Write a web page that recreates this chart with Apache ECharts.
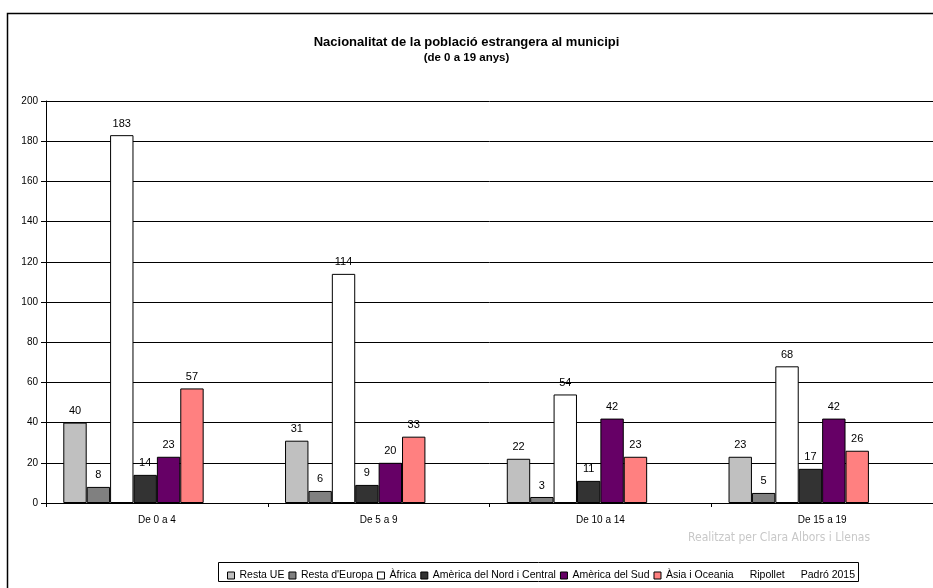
<!DOCTYPE html>
<html><head><meta charset="utf-8">
<script src="https://cdn.jsdelivr.net/npm/echarts@6/dist/echarts.min.js"></script>
<style>html,body{margin:0;padding:0;background:#fff}#c{width:933px;height:588px}</style>
</head><body><div id="c"></div>
<script>
const categories = ['De 0 a 4', 'De 5 a 9', 'De 10 a 14', 'De 15 a 19'];
const seriesNames = ['Resta UE', "Resta d'Europa", 'Àfrica', 'Amèrica del Nord i Central', 'Amèrica del Sud', 'Àsia i Oceania', 'Ripollet', 'Padró 2015'];
const restaUE = [40, 31, 22, 23];
const restaEuropa = [8, 6, 3, 5];
const africa = [183, 114, 54, 68];
const americaNord = [14, 9, 11, 17];
const americaSud = [23, 20, 42, 42];
const asiaOceania = [57, 33, 23, 26];
const ripollet = [null, null, null, null];
const padro2015 = [null, null, null, null];
const yTicks = [0, 20, 40, 60, 80, 100, 120, 140, 160, 180, 200];
const colors = ['#c0c0c0', '#808080', '#ffffff', '#333333', '#660066', '#ff8080', 'rgba(0,0,0,0)', 'rgba(0,0,0,0)'];
const values = [restaUE, restaEuropa, africa, americaNord, americaSud, asiaOceania, ripollet, padro2015];
const font = 'Liberation Sans, Arial, sans-serif';

const chart = echarts.init(document.getElementById('c'), null, {renderer: 'canvas'});
chart.setOption({
  animation: false,
  backgroundColor: '#fff',
  title: {
    text: 'Nacionalitat de la població estrangera al municipi',
    subtext: '(de 0 a 19 anys)',
    left: 'center', top: 31, itemGap: 3,
    textStyle: {fontFamily: font, fontSize: 13, fontWeight: 'bold', color: '#000'},
    subtextStyle: {fontFamily: font, fontSize: 11.5, fontWeight: 'bold', color: '#000'}
  },
  legend: {
    left: 222, top: 565, itemWidth: 7, itemHeight: 7, itemGap: 4,
    icon: 'rect',
    textStyle: {fontFamily: font, fontSize: 10.5, color: '#000'},
    data: seriesNames.map((n, i) => ({name: n, itemStyle: i < 6 ? {color: colors[i], borderColor: '#000', borderWidth: 1} : {color: 'rgba(0,0,0,0)', borderWidth: 0}}))
  },
  grid: {left: 46, width: 889, top: 101, bottom: 85},
  xAxis: {
    type: 'category', data: categories,
    axisLine: {lineStyle: {color: '#000', width: 1}},
    axisTick: {show: true, length: 4, lineStyle: {color: '#000'}},
    axisLabel: {fontFamily: font, fontSize: 10, color: '#000', margin: 12}
  },
  yAxis: {
    type: 'value', min: yTicks[0], max: yTicks[yTicks.length - 1], interval: yTicks[1] - yTicks[0],
    axisLine: {show: true, lineStyle: {color: '#000'}},
    axisTick: {show: true, length: 5, lineStyle: {color: '#000'}},
    splitLine: {lineStyle: {color: '#000', width: 1}},
    axisLabel: {fontFamily: font, fontSize: 10, color: '#000', margin: 8}
  },
  series: seriesNames.map((n, i) => ({
    name: n, type: 'bar', data: values[i],
    barGap: '0%', barCategoryGap: '15.6%',
    itemStyle: {color: colors[i], borderColor: i < 6 ? '#000' : 'rgba(0,0,0,0)', borderWidth: 1},
    label: {show: i < 6, position: 'top', distance: 6, fontFamily: font, fontSize: 11, color: '#000'}
  })),
  graphic: [
    {type: 'rect', shape: {x: 7.5, y: 13.5, width: 940, height: 600}, style: {fill: 'none', stroke: '#000', lineWidth: 1.5}, silent: true, z: -1},
    {type: 'rect', shape: {x: 218.5, y: 562.5, width: 640, height: 19}, style: {fill: 'none', stroke: '#000', lineWidth: 1}, silent: true},
    {type: 'text', right: 63, top: 532, style: {text: 'Realitzat per Clara Albors i Llenas', font: '12px "Liberation Sans Narrow", "DejaVu Sans Condensed", sans-serif', fill: '#c8c8c8'}}
  ]
});
</script></body></html>
